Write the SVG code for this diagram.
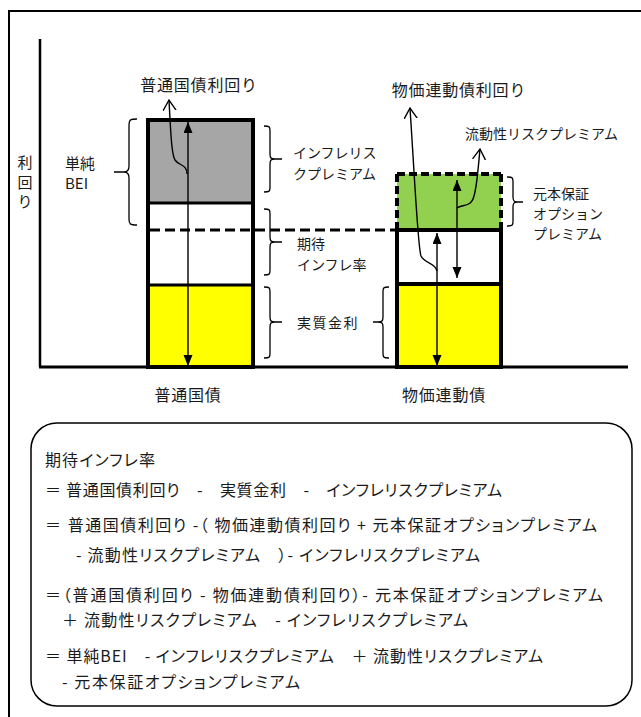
<svg xmlns="http://www.w3.org/2000/svg" width="641" height="717" viewBox="0 0 641 717">
<style>
text{font-family:"Noto Sans CJK JP","Noto Sans",sans-serif;fill:#1a1a1a;white-space:pre}
.t16{font-size:16px}
.t15{font-size:15px}
.t14{font-size:14px}
.bx{font-size:16px;font-feature-settings:"palt"}
.br{fill:none;stroke:#000;stroke-width:1.3}
.bar{stroke:#000;stroke-width:4}
.ar{fill:none;stroke:#000;stroke-width:1.4}
</style>
<defs>
<marker id="fa" markerUnits="userSpaceOnUse" markerWidth="12" markerHeight="10" refX="11" refY="4.5" orient="auto-start-reverse" viewBox="0 0 12 10">
<path d="M0,0 L11,4.5 L0,9 z" fill="#000"/>
</marker>
<marker id="oa" markerUnits="userSpaceOnUse" markerWidth="12" markerHeight="16" refX="10.5" refY="7" orient="auto" viewBox="0 0 12 16">
<path d="M0,0.5 L10.5,7 L0,13.5" fill="none" stroke="#000" stroke-width="1.4"/>
</marker>
</defs>
<rect x="9" y="11" width="640" height="720" fill="#fff" stroke="#000" stroke-width="2"/>
<g id="axes">
<line x1="40" y1="39" x2="40" y2="367" stroke="#000" stroke-width="2.5"/>
<line x1="39" y1="367" x2="628" y2="367" stroke="#000" stroke-width="3"/>
<text class="t15" x="25" y="168" text-anchor="middle">利</text>
<text class="t15" x="25" y="188" text-anchor="middle">回</text>
<text class="t15" x="25" y="207" text-anchor="middle">り</text>
</g>
<g id="bar-futsu">
<rect x="148" y="120" width="105" height="83" fill="#A6A6A6"/>
<rect x="148" y="203" width="105" height="82" fill="#fff"/>
<rect x="148" y="285" width="105" height="82" fill="#FFFF00"/>
<line x1="148" y1="203" x2="253" y2="203" stroke="#000" stroke-width="3"/>
<line x1="148" y1="285" x2="253" y2="285" stroke="#000" stroke-width="3"/>
<rect x="148" y="120" width="105" height="247" fill="none" class="bar"/>
<text class="t16" x="199" y="91" text-anchor="middle" letter-spacing="0.8">普通国債利回り</text>
<text class="t16" x="188" y="401" text-anchor="middle" letter-spacing="0.8">普通国債</text>
</g>
<g id="bar-bukka">
<rect x="397" y="174" width="104" height="56" fill="#92D050"/>
<rect x="397" y="230" width="104" height="54" fill="#fff"/>
<rect x="397" y="284" width="104" height="83" fill="#FFFF00"/>
<path d="M397,174 H501 M397,174 V230 M501,174 V230" fill="none" stroke="#000" stroke-width="4" stroke-dasharray="8,4"/>
<path d="M397,230 V367 H501 V230 H397 M397,284 H501" fill="none" stroke="#000" stroke-width="4"/>
<text class="t16" x="459" y="96" text-anchor="middle" letter-spacing="0.8">物価連動債利回り</text>
<text class="t16" x="444" y="401" text-anchor="middle" letter-spacing="0.8">物価連動債</text>
</g>
<g id="expected-line">
<line x1="150" y1="230" x2="395" y2="230" stroke="#000" stroke-width="3" stroke-dasharray="10,5"/>
</g>
<g id="brace-bei">
<path class="br" d="M137,119 C130,119 129,120 129,125 L129,166 C129,170 128,172 124,172 C128,172 129,174 129,178 L129,219 C129,224 130,225 137,225 M124,172 H114"/>
<text class="t15" x="65" y="169">単純</text>
<text class="t15" x="65" y="189">BEI</text>
</g>
<g id="brace-infl-risk">
<path class="br" d="M264,126 C270,126 270,127 270,131 L270,154 C270,158 271,159 275,159 C271,159 270,160 270,164 L270,187 C270,191 270,192 264,192 M275,159 H282"/>
<text class="t14" x="293" y="158">インフレリス</text>
<text class="t14" x="293" y="179">クプレミアム</text>
</g>
<g id="brace-expected">
<path class="br" d="M264,209 C270,209 270,210 270,214 L270,237 C270,241 271,242 275,242 C271,242 270,243 270,247 L270,270 C270,274 270,275 264,275 M275,242 H282"/>
<text class="t14" x="297" y="249">期待</text>
<text class="t14" x="297" y="270">インフレ率</text>
</g>
<g id="brace-real">
<path class="br" d="M264,287 C270,287 270,288 270,292 L270,317 C270,321 271,322 275,322 C271,322 270,323 270,327 L270,353 C270,357 270,358 264,358 M275,322 H282"/>
<text class="t14" x="297" y="328" letter-spacing="1.5">実質金利</text>
</g>
<g id="brace-real-right">
<path class="br" d="M389,287 C383,287 383,288 383,292 L383,317 C383,321 382,322 378,322 C382,322 383,323 383,327 L383,353 C383,357 383,358 389,358 M378,322 H373"/>
</g>
<g id="brace-option">
<path class="br" d="M507,177 C513,177 513,178 513,182 L513,197 C513,201 514,202 517,202 C514,202 513,203 513,207 L513,221 C513,225 513,226 507,226 M517,202 H523"/>
<text class="t14" x="533" y="199">元本保証</text>
<text class="t14" x="533" y="219">オプション</text>
<text class="t14" x="533" y="239">プレミアム</text>
</g>
<g id="label-liquidity">
<text class="t14" x="465" y="139">流動性リスクプレミアム</text>
</g>
<g id="connectors">
<line class="ar" x1="188" y1="122" x2="188" y2="366" marker-start="url(#fa)" marker-end="url(#fa)"/>
<line class="ar" x1="437" y1="233" x2="437" y2="366" marker-start="url(#fa)" marker-end="url(#fa)"/>
<line class="ar" x1="457" y1="180" x2="457" y2="278" marker-start="url(#fa)" marker-end="url(#fa)"/>
<path class="ar" d="M187,174 C187,164 179,166 175,160 C172,155 171,140 169,100" marker-end="url(#oa)"/>
<path class="ar" d="M437,271 C435,262 425,264 421,256 C418,248 416,200 410,108" marker-end="url(#oa)"/>
<path class="ar" d="M457,208 C462,204 471,208 474,196 C477,186 478,170 480,149" marker-end="url(#oa)"/>
</g>
<g id="formula">
<rect x="31" y="423" width="601" height="283" rx="26" ry="26" fill="#fff" stroke="#000" stroke-width="1.5"/>
<text class="bx" x="45" y="466" textLength="110" lengthAdjust="spacing">期待インフレ率</text>
<text class="bx" x="45" y="496" textLength="457" lengthAdjust="spacing">＝ 普通国債利回り　-　実質金利　-　インフレリスクプレミアム</text>
<text class="bx" x="45" y="531" textLength="552" lengthAdjust="spacing">＝ 普通国債利回り -（ 物価連動債利回り + 元本保証オプションプレミアム</text>
<text class="bx" x="76" y="561" textLength="404" lengthAdjust="spacing">- 流動性リスクプレミアム　）- インフレリスクプレミアム</text>
<text class="bx" x="45" y="601" textLength="558" lengthAdjust="spacing">＝（普通国債利回り - 物価連動債利回り）- 元本保証オプションプレミアム</text>
<text class="bx" x="62" y="626" textLength="406" lengthAdjust="spacing">＋ 流動性リスクプレミアム　- インフレリスクプレミアム</text>
<text class="bx" x="45" y="662" textLength="498" lengthAdjust="spacing">＝ 単純BEI　- インフレリスクプレミアム　＋ 流動性リスクプレミアム</text>
<text class="bx" x="62" y="688" textLength="238" lengthAdjust="spacing">- 元本保証オプションプレミアム</text>
</g>
</svg>
